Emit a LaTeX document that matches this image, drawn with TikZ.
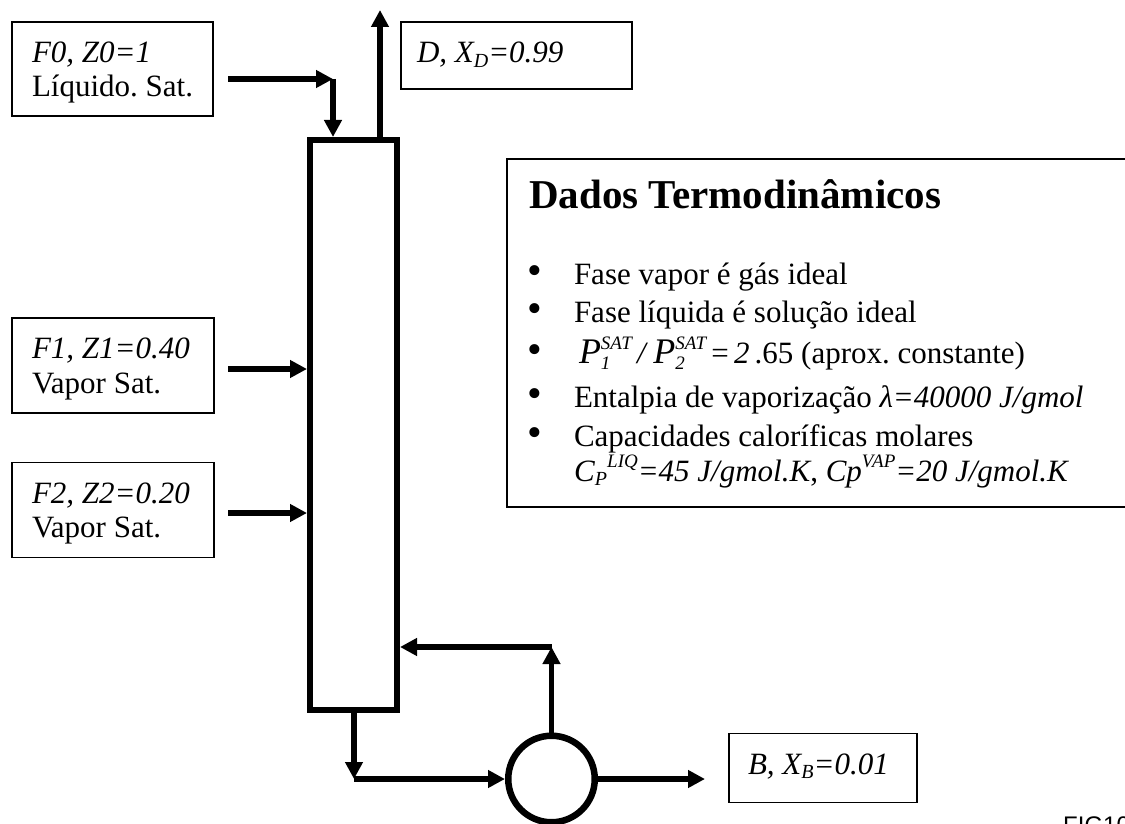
\documentclass[tikz,border=0pt]{standalone}
\usepackage{fontspec}
\setmainfont{Liberation Serif}
\newfontfamily\figfont{Liberation Sans}
\usetikzlibrary{arrows.meta}
\frenchspacing
\newcommand{\sbx}[1]{\raisebox{-0.15em}{\fontsize{20}{20}\selectfont\itshape #1}}
\newcommand{\supx}[2][19]{\raisebox{0.45em}{\fontsize{#1}{#1}\selectfont\itshape #2}}
\newcommand{\Psat}[1]{{\fontsize{36}{36}\selectfont\itshape P}\makebox[0pt][l]{\raisebox{-0.22em}{\fontsize{19}{19}\selectfont\itshape #1}}\raisebox{0.45em}{\fontsize{19}{19}\selectfont\itshape SAT}}
\tikzset{
  box/.style={draw, line width=1.6pt, inner sep=0pt},
  txt/.style={inner sep=0pt, outer sep=0pt, anchor=base west, font=\fontsize{31}{34}\selectfont\frenchspacing},
  bul/.style={inner sep=0pt, outer sep=0pt, anchor=base, font=\fontsize{42}{42}\selectfont},
  flow/.style={line width=5.5pt, -{Triangle[length=17pt,width=17pt]}},
}
\begin{document}
\begin{tikzpicture}[x=1pt, y=-1pt]
\useasboundingbox (0,0) rectangle (1125,824);
\clip (0,0) rectangle (1125,824);
\fill[white] (0,0) rectangle (1125,824);

% feed / product boxes
\node[box, minimum width=201pt, minimum height=94pt] (F0) at (112.5,69) {};
\node[txt] (F0a) at (32,63) {\itshape F0, Z0=1};
\node[txt] (F0b) at (32,97) {Líquido. Sat.};

\node[box, minimum width=202pt, minimum height=95pt] (F1) at (113,365.5) {};
\node[txt] (F1a) at (32,358) {\itshape F1, Z1=0.40};
\node[txt] (F1b) at (32,393) {Vapor Sat.};

\node[box, minimum width=202pt, minimum height=95pt] (F2) at (113,510) {};
\node[txt] (F2a) at (32,503) {\itshape F2, Z2=0.20};
\node[txt] (F2b) at (32,537) {Vapor Sat.};

\node[box, minimum width=231pt, minimum height=67pt] (D) at (516.5,55.5) {};
\node[txt] (Dt) at (417,63) {\itshape D, X\sbx{D}=0.99};

\node[box, minimum width=188pt, minimum height=69pt] (B) at (823,768) {};
\node[txt] (Bt) at (748,774) {\itshape B, X\sbx{B}=0.01};

% column and reboiler
\node[draw, line width=6pt, minimum width=87pt, minimum height=570pt, inner sep=0pt] (col) at (353.5,425) {};
\node[draw, circle, line width=6.5pt, minimum size=86.5pt, inner sep=0pt] (reb) at (551.5,779) {};

% connectors
\coordinate (f0s) at (228,79);
\coordinate (f0c) at (333,79);
\draw[flow] (f0s) -- (f0c);
\draw[flow] (f0c) -- (f0c |- col.north);

\coordinate (dtop) at (380,10);
\draw[flow] (dtop |- col.north) -- (dtop);

\coordinate (f1s) at (228,369);
\draw[flow] (f1s) -- (f1s -| col.west);
\coordinate (f2s) at (228,513);
\draw[flow] (f2s) -- (f2s -| col.west);

\coordinate (bt) at (354,779);
\draw[flow] (bt |- col.south) -- (bt);
\draw[flow] (bt) -- (reb.west);

\coordinate (rf) at (551.5,647);
\draw[flow] (reb.north) -- (rf);
\draw[flow] (rf) -- (rf -| col.east);

\coordinate (bend) at (705,779);
\draw[flow] (reb.east) -- (bend);

% data box
\node[draw, line width=2pt, minimum width=628pt, minimum height=348pt, inner sep=0pt] (data) at (821,333) {};
\node[inner sep=0pt, anchor=base west, font=\fontsize{41}{46}\selectfont\bfseries] (title) at (529,208) {Dados Termodinâmicos};
\node[bul] (b1) at (535,284) {\textbullet};
\node[bul] (b2) at (535,322) {\textbullet};
\node[bul] (b3) at (535,363) {\textbullet};
\node[bul] (b4) at (535,407) {\textbullet};
\node[bul] (b5) at (535,446) {\textbullet};
\node[txt] (l1) at (574,284) {Fase vapor é gás ideal};
\node[txt] (l2) at (574,322) {Fase líquida é solução ideal};
\node[txt] (l3) at (579,363) {\Psat{1}\,\textit{/}\,\Psat{2}\,=\,\textit{2}\,.65 (aprox. constante)};
\node[txt] (l4) at (574,407) {Entalpia de vaporização \textit{λ=40000 J/gmol}};
\node[txt] (l5) at (574,446) {Capacidades caloríficas molares};
\node[txt] (l6) at (574,481) {\textit{C}\sbx{P}\supx{LIQ}\textit{=45 J/gmol.K}, \textit{Cp}\supx{VAP}\textit{=20 J/gmol.K}};

\node[inner sep=0pt, anchor=base west, font=\figfont\fontsize{24}{24}\selectfont] (fig) at (1063,833) {FIG10};
\end{tikzpicture}
\end{document}
